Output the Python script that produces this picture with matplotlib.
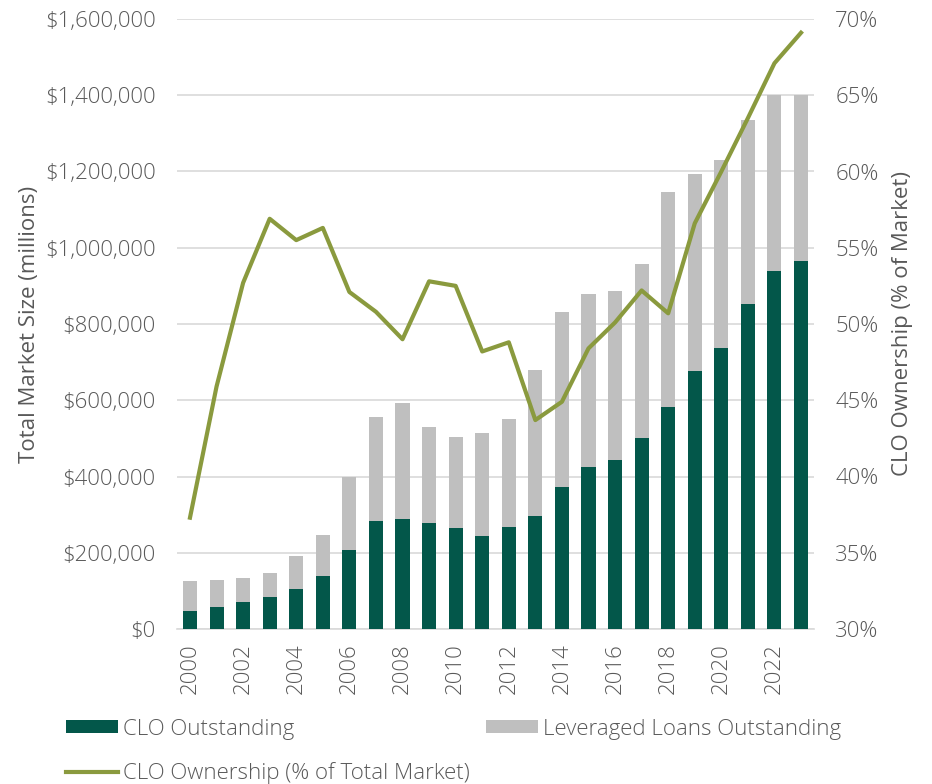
import matplotlib
matplotlib.use("Agg")
import matplotlib.pyplot as plt
from matplotlib.ticker import FuncFormatter, MultipleLocator
from matplotlib.patches import Patch
from matplotlib.lines import Line2D

years = list(range(2000, 2024))
total_market = [126000, 129000, 135000, 147000, 192000, 247000, 399000, 555000,
                594000, 529000, 504000, 514000, 550000, 680000, 831000, 879000,
                886000, 957000, 1147000, 1194000, 1229000, 1336000, 1400000, 1400000]
clo_outstanding = [46000, 58000, 71000, 83000, 105000, 139000, 207000, 282000,
                   289000, 279000, 264000, 245000, 268000, 297000, 373000, 425000,
                   443000, 500000, 583000, 676000, 737000, 853000, 938000, 964000]
clo_ownership = [37.3, 45.9, 52.7, 56.9, 55.5, 56.3, 52.1, 50.8, 49.0, 52.8, 52.5, 48.2,
                 48.8, 43.7, 44.9, 48.4, 50.1, 52.2, 50.7, 56.6, 60.0, 63.5, 67.1, 69.1]
year_labels = [str(y) for y in years[::2]]

GREEN = "#03574A"
GREY = "#BFBFBF"
OLIVE = "#8A9A3E"
TXT = "#595959"

plt.rcParams['font.family'] = ['Open Sans', 'DejaVu Sans']
plt.rcParams['font.weight'] = 'light'
FS = 16

fig = plt.figure(figsize=(9.32, 7.84), dpi=100)
W, H = 932, 784
ax = fig.add_axes([176.7 / W, 1 - 629 / H, (814.3 - 176.7) / W, (629 - 19) / H])

x = list(range(len(years)))
ax.bar(x, total_market, width=0.53, color=GREY, zorder=2)
ax.bar(x, clo_outstanding, width=0.53, color=GREEN, zorder=3)
ax.set_xlim(-0.5, 23.5)
ax.set_ylim(0, 1600000)
ax.yaxis.set_major_locator(MultipleLocator(200000))
ax.yaxis.set_major_formatter(FuncFormatter(lambda v, p: "${:,.0f}".format(v)))
ax.set_xticks(x[::2])
ax.set_xticklabels(year_labels, rotation=90)
ax.grid(axis='y', color='#D9D9D9', linewidth=1.2, zorder=0)
ax.set_axisbelow(True)
for s in ['top', 'left', 'right']:
    ax.spines[s].set_visible(False)
ax.spines['bottom'].set_color('#D9D9D9')
ax.spines['bottom'].set_linewidth(1.2)
ax.tick_params(axis='y', length=0, pad=15, labelsize=FS, labelcolor=TXT)
ax.tick_params(axis='x', length=0, pad=10, labelsize=FS, labelcolor=TXT)
ax.set_ylabel("Total Market Size (millions)", fontsize=FS, color=TXT)
ax.yaxis.set_label_coords((40 - 176.7) / 637.6, 0.5)

ax2 = ax.twinx()
ax2.plot(x, clo_ownership, color=OLIVE, linewidth=3, zorder=5)
ax2.set_ylim(30, 70)
ax2.yaxis.set_major_locator(MultipleLocator(5))
ax2.yaxis.set_major_formatter(FuncFormatter(lambda v, p: "{:.0f}%".format(v)))
for s in ['top', 'left', 'right', 'bottom']:
    ax2.spines[s].set_visible(False)
ax2.tick_params(axis='y', length=0, pad=15, labelsize=FS, labelcolor=TXT)
ax2.set_ylabel("CLO Ownership (% of Market)", fontsize=FS, color=TXT)
ax2.yaxis.set_label_coords((892 - 176.7) / 637.6, 0.5)

def add_leg(handle, label, xpx, ypx):
    lg = fig.legend(handles=[handle], labels=[label], loc='center left',
                    bbox_to_anchor=(xpx / W, 1 - ypx / H), frameon=False,
                    borderpad=0, borderaxespad=0, handlelength=2.35,
                    handleheight=0.55, handletextpad=0.22, fontsize=FS)
    for t in lg.get_texts():
        t.set_color(TXT)
    return lg

add_leg(Patch(facecolor=GREEN), "CLO Outstanding", 66, 729)
add_leg(Patch(facecolor=GREY), "Leveraged Loans Outstanding", 486, 729)
add_leg(Line2D([0], [0], color=OLIVE, linewidth=3), "CLO Ownership (% of Total Market)", 66, 773)

fig.savefig("out.png", dpi=100)
